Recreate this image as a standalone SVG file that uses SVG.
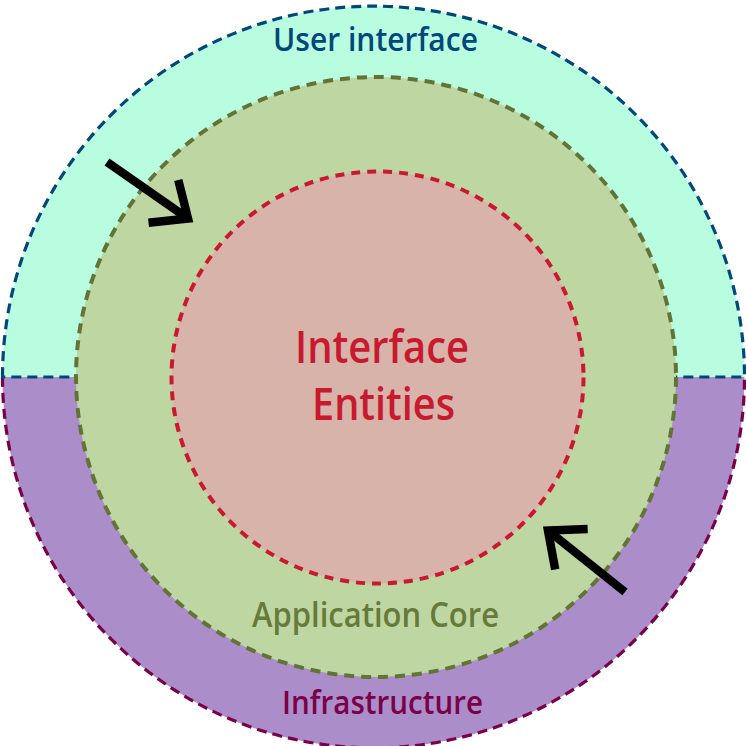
<svg xmlns="http://www.w3.org/2000/svg" width="746" height="746" viewBox="0 0 746 746">
<style>
.lbl{font-family:"Open Sans","Liberation Sans",sans-serif;font-weight:600;text-anchor:middle}
.arrow{fill:none;stroke:#000;stroke-width:8.5;stroke-linejoin:miter;stroke-miterlimit:10}
</style>
<defs>
<marker id="head" markerUnits="userSpaceOnUse" orient="auto" refX="0" refY="0" markerWidth="60" markerHeight="60" viewBox="-50 -30 60 60" overflow="visible">
<path d="M -30,-26 L 0,0 L -30,26" fill="none" stroke="#000" stroke-width="8.5" stroke-linejoin="miter" stroke-miterlimit="10"/>
</marker>
</defs>
<rect width="746" height="746" fill="#fff"/>
<g id="infrastructure">
<path d="M 2.5,377 A 371,371 0 0 0 744.5,377 Z" fill="#ab8dca" stroke="none"/>
<path d="M 2.5,377 A 371,371 0 0 0 744.5,377" fill="none" stroke="#7a0049" stroke-width="3.2" stroke-dasharray="10,6"/>
<text class="lbl" x="382.5" y="714" font-size="32" fill="#7a0049" textLength="201" lengthAdjust="spacingAndGlyphs">Infrastructure</text>
</g>
<g id="user-interface">
<path d="M 2.5,377 A 371,371 0 0 1 744.5,377 Z" fill="#b9fde1" stroke="#02477a" stroke-width="3.2" stroke-dasharray="10,6"/>
<text class="lbl" x="375.5" y="51" font-size="33" fill="#02477a" textLength="205" lengthAdjust="spacingAndGlyphs">User interface</text>
</g>
<g id="application-core">
<circle cx="376" cy="377" r="300" fill="#bdd6a2" stroke="#627435" stroke-width="4" stroke-dasharray="10,7"/>
<text class="lbl" x="375.5" y="627" font-size="34" fill="#667a3a" textLength="247" lengthAdjust="spacingAndGlyphs">Application Core</text>
</g>
<g id="entities">
<circle cx="377.5" cy="377.5" r="206" fill="#d7b3a9" stroke="#c8192f" stroke-width="4" stroke-dasharray="9,7"/>
<text class="lbl" x="382" y="363" font-size="46" fill="#c8192f" textLength="174" lengthAdjust="spacingAndGlyphs">Interface</text>
<text class="lbl" x="383.5" y="420" font-size="46" fill="#c8192f" textLength="143" lengthAdjust="spacingAndGlyphs">Entities</text>
</g>
<g id="connectors">
<path class="arrow" d="M 107,162 L 188,218.5" marker-end="url(#head)"/>
<path class="arrow" d="M 625,592 L 548,530.5" marker-end="url(#head)"/>
</g>
</svg>
